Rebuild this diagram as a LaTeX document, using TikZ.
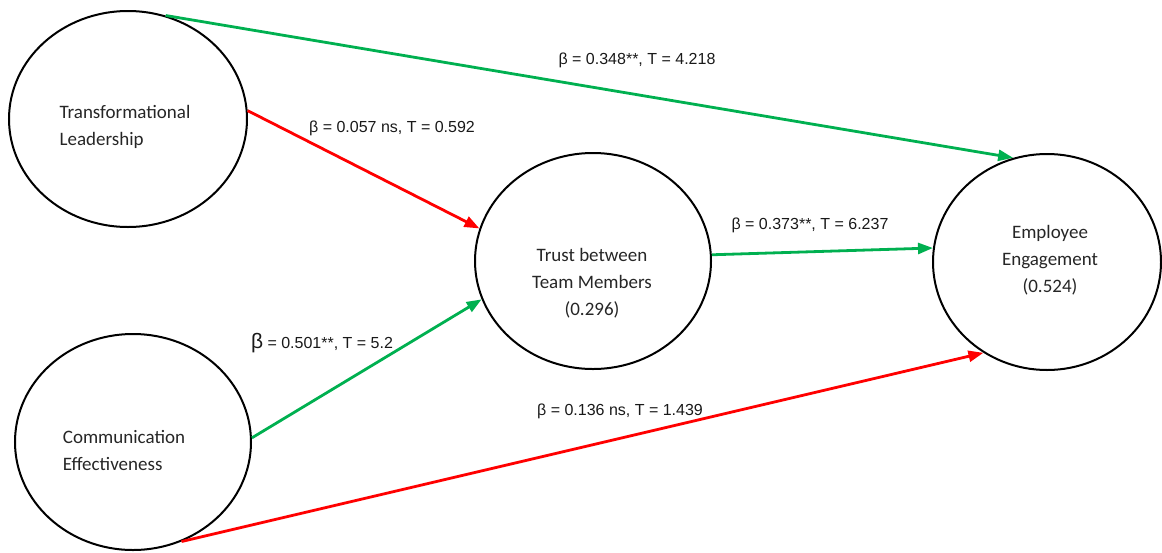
\documentclass[tikz,border=0pt]{standalone}
\usepackage{fontspec}
\setmainfont{Carlito}
\newfontfamily\labfont{Liberation Sans}
\usetikzlibrary{shapes.geometric,arrows.meta}
\definecolor{pathgreen}{RGB}{0,176,80}
\definecolor{pathred}{RGB}{255,0,0}
\begin{document}
\begin{tikzpicture}[x=1pt,y=-1pt,
  construct/.style={draw=black,line width=2pt,ellipse,inner sep=0pt},
  ctext/.style={font=\fontsize{19}{27}\selectfont,text=black!85,inner sep=0pt},
  plabel/.style={font=\labfont\fontsize{16}{18}\selectfont,text=black!90,inner sep=0pt},
  conn/.style={line width=2.8pt,-{Triangle[length=15pt,width=11pt]}},
  sig/.style={conn,draw=pathgreen},
  nonsig/.style={conn,draw=pathred}]
\useasboundingbox (0,0) rectangle (1162,552);
% constructs
\node[construct,minimum width=238pt,minimum height=216pt] (TL) at (128,119) {};
\node[construct,minimum width=236pt,minimum height=216pt] (CE) at (133,442) {};
\node[construct,minimum width=236pt,minimum height=216pt] (TR) at (593,261) {};
\node[construct,minimum width=228pt,minimum height=216pt] (EE) at (1047,262) {};
% construct texts
\node[ctext,align=left] (TLt) at (125,127) {Transformational\\Leadership};
\node[ctext,align=left] (CEt) at (124,450) {Communication\\Effectiveness};
\node[ctext,align=center] (TRt) at (592,283) {Trust between\\Team Members\\(0.296)};
\node[ctext,align=center] (EEt) at (1050,260) {Employee\\Engagement\\(0.524)};
% paths
\draw[sig] (TL.70) -- (EE.108);
\draw[nonsig] (TL.4) -- (TR.164);
\draw[sig] (CE.2) -- (TR.199);
\draw[sig] (TR.3) -- (EE.173);
\draw[nonsig] (CE.296) -- (EE.235);
% path labels
\node[plabel] (L1) at (637,60) {β = 0.348**, T = 4.218};
\node[plabel] (L2) at (392,128) {β = 0.057 ns, T = 0.592};
\node[plabel] (L3) at (322,343) {{\fontsize{21}{21}\selectfont β} = 0.501**, T = 5.2};
\node[plabel] (L4) at (810,225) {β = 0.373**, T = 6.237};
\node[plabel] (L5) at (620,411) {β = 0.136 ns, T = 1.439};
\end{tikzpicture}
\end{document}
